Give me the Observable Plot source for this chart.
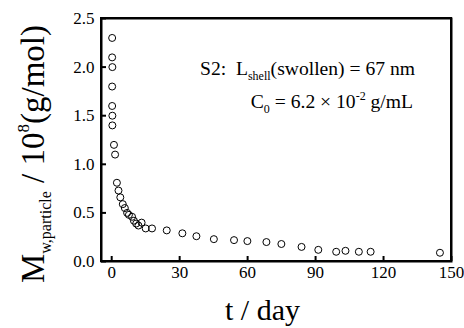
<!DOCTYPE html>
<html><head><meta charset="utf-8">
<script src="https://cdn.jsdelivr.net/npm/d3@7"></script>
<script src="https://cdn.jsdelivr.net/npm/@observablehq/plot@0.6"></script>
<style>
body{margin:0;background:#fff}
#wrap{position:relative;width:464px;height:328px;overflow:hidden;font-family:"Liberation Serif",serif;color:#000}
#chart svg, #dots svg{position:absolute;left:0;top:0}
#chart svg text{font-family:"Liberation Serif",serif !important;font-size:17px !important}
#box{position:absolute;border:2px solid #000;box-sizing:border-box}
#wrap .t{position:absolute;white-space:nowrap;line-height:1}
#wrap .lo{position:relative}
#ytitle{left:0;top:0;transform-origin:0 0;transform:translate(17.4px,283px) rotate(-90deg);font-size:33px}
#xtitle{left:262.5px;top:295px;transform:translateX(-50%);font-size:30px}
#ann1{right:49px;top:58.6px;font-size:19.6px}
#ann2{right:51px;top:91.6px;font-size:19.6px}
</style>
</head><body>
<div id="wrap">
  <div id="chart"></div>
  <div id="box"></div>
  <div id="dots"></div>
  <div class="t" id="ytitle">M<span class="lo" style="font-size:16px;top:7px">w,particle</span>&nbsp;/ 10<span class="lo" style="font-size:17px;top:-15px">8</span>(g/mol)</div>
  <div class="t" id="xtitle">t / day</div>
  <div class="t" id="ann1">S2:&nbsp; L<span class="lo" style="font-size:12px;top:5px">shell</span>(swollen) = 67 nm</div>
  <div class="t" id="ann2">C<span class="lo" style="font-size:12px;top:5px">0</span> = 6.2 &times; 10<span class="lo" style="font-size:12px;top:-8px">-2</span> g/mL</div>
</div>
<script>
// time (day)
const days = [0.2, 0.2, 0.3, 0.2, 0.2, 0.3, 0.3, 1.0, 1.5,
  2.3, 3.0, 3.8, 4.9, 5.8, 6.8, 7.6, 9.0, 9.8, 10.8, 11.8, 13.2, 15.0, 17.8,
  24.3, 31.2, 37.4, 45.1, 54.0, 59.9, 68.3, 74.9, 83.8, 91.2, 99.1, 103.2, 109.1, 114.3, 144.9];
// Mw,particle / 10^8 (g/mol)
const mw = [2.30, 2.10, 2.00, 1.80, 1.60, 1.50, 1.40, 1.20, 1.10,
  0.81, 0.73, 0.66, 0.59, 0.55, 0.50, 0.48, 0.46, 0.42, 0.39, 0.37, 0.40, 0.34, 0.34,
  0.32, 0.29, 0.26, 0.23, 0.22, 0.21, 0.20, 0.18, 0.15, 0.12, 0.10, 0.11, 0.10, 0.10, 0.09];
const xTicks = [0, 30, 60, 90, 120, 150];
const yTicks = [0, 0.5, 1.0, 1.5, 2.0, 2.5];
const yTickLabels = ["0.0", "0.5", "1.0", "1.5", "2.0", "2.5"];

const data = days.map((d, i) => ({t: d, m: mw[i]}));

const W = 464, H = 328, mL = 101, mR = 13, mT = 18, mB = 67;
const tickLen = 5;
const common = {
  width: W, height: H,
  marginLeft: mL, marginRight: mR, marginTop: mT, marginBottom: mB,
  x: {domain: [-4.5, 150]},
  y: {domain: [0, 2.5]}
};

// axes, ticks and frame
const axes = Plot.plot({
  ...common,
  style: {fontFamily: "Liberation Serif", fontSize: "17px", background: "#fff", color: "#000"},
  marks: [
    Plot.ruleX(xTicks, {x: d => d, stroke: "#000", strokeWidth: 2, insetTop: (H - mT - mB) - tickLen}),
    Plot.ruleY(yTicks, {y: d => d, stroke: "#000", strokeWidth: 2, insetRight: (W - mL - mR) - tickLen}),
    Plot.axisX(xTicks, {tickSize: 0, tickPadding: 4, label: null}),
    Plot.axisY(yTicks, {tickSize: 0, tickPadding: 7, label: null,
      tickFormat: d => yTickLabels[yTicks.indexOf(d)]}),
    Plot.frame({stroke: "#000", strokeWidth: 2})
  ]
});
document.getElementById("chart").appendChild(axes);

// data points on a transparent layer with the same scales
const dots = Plot.plot({
  ...common,
  style: {background: "none"},
  axis: null,
  marks: [
    Plot.dot(data, {x: "t", y: "m", r: 3.5, stroke: "#000", strokeWidth: 1, fill: "none"})
  ]
});
document.getElementById("dots").appendChild(dots);

// plot-area border taken from the library's scale ranges
const xr = axes.scale("x").range, yr = axes.scale("y").range;
const box = document.getElementById("box");
const x0 = Math.min(...xr), x1 = Math.max(...xr), y0 = Math.min(...yr), y1 = Math.max(...yr);
box.style.left = (x0 - 1) + "px";
box.style.top = (y0 - 1) + "px";
box.style.width = (x1 - x0 + 2) + "px";
box.style.height = (y1 - y0 + 2) + "px";
</script>
</body></html>
